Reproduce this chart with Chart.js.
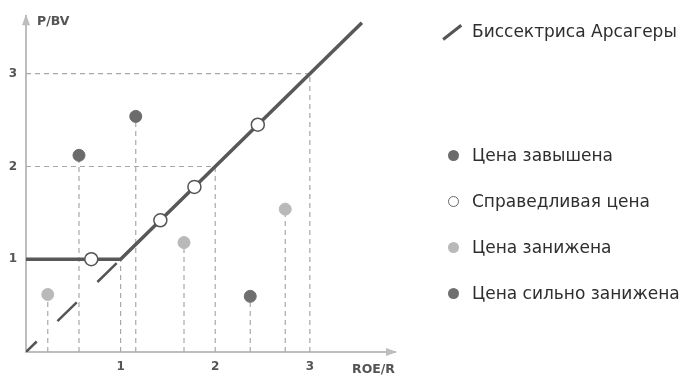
<!DOCTYPE html>
<html>
<head>
<meta charset="utf-8">
<script src="https://cdn.jsdelivr.net/npm/chart.js@4.4.0/dist/chart.umd.min.js"></script>
<style>
  body { margin: 0; background: #fff; }
  #wrap { position: relative; width: 690px; height: 376px; }
  #legend { position: absolute; left: 0; top: 0; width: 690px; height: 376px; pointer-events: none;
    font-family: "DejaVu Sans", sans-serif; font-size: 17px; color: #2e2e2e; }
  .item { position: absolute; left: 472px; white-space: nowrap; line-height: 20px; }
  .dot { position: absolute; width: 11px; height: 11px; border-radius: 50%; box-sizing: border-box; }
  .line { position: absolute; height: 2.5px; background: #555; transform-origin: 0 50%; }
</style>
</head>
<body>
<div id="wrap">
  <canvas id="myChart" width="690" height="376"></canvas>
  <div id="legend"></div>
</div>
<script>
// tick labels
const xTicks = [1, 2, 3];
const yTicks = [1, 2, 3];

// Arsagera bisector (flat at 1, then y = x) and the dashed y = x below it
const bisectorX = [0, 1, 3.55];
const bisectorY = [1, 1, 3.55];
const diagX = [0, 1];
const diagY = [0, 1];

// points
const overX = [0.56, 1.16];
const overY = [2.12, 2.54];
const fairX = [0.69, 1.42, 1.78, 2.45];
const fairY = [1, 1.42, 1.78, 2.45];
const underX = [0.23, 1.67, 2.74];
const underY = [0.62, 1.18, 1.54];
const strongX = [2.37];
const strongY = [0.6];

const legendLabels = [
  "Биссектриса Арсагеры",
  "Цена завышена",
  "Справедливая цена",
  "Цена занижена",
  "Цена сильно занижена",
];
const axisTitleX = "ROE/R";
const axisTitleY = "P/BV";

function toPoints(xs, ys) {
  return xs.map((x, i) => ({ x: x, y: ys[i] }));
}

// dashed helper lines: drops from points to the x axis, plus the 1/2/3 guides
function buildGuides() {
  const segs = [];
  const drop = (x, y) => {
    segs.push({ x: x, y: 0 }, { x: x, y: y }, { x: x, y: null });
  };
  overX.forEach((x, i) => drop(x, overY[i]));
  underX.forEach((x, i) => drop(x, underY[i]));
  strongX.forEach((x, i) => drop(x, strongY[i]));
  xTicks.forEach((t) => drop(t, t));
  yTicks.forEach((t) => {
    if (t > 1) segs.push({ x: 0, y: t }, { x: t, y: t }, { x: t, y: null });
  });
  return segs;
}

const axisColor = "#bdbdbd";
const labelColor = "#555";

// arrows at the axis ends and the axis titles
const axesDecor = {
  id: "axesDecor",
  afterDraw(chart) {
    const ctx = chart.ctx;
    const a = chart.chartArea;
    ctx.save();
    ctx.fillStyle = axisColor;
    ctx.beginPath();
    ctx.moveTo(a.right + 2, a.bottom);
    ctx.lineTo(a.right - 9, a.bottom - 4);
    ctx.lineTo(a.right - 9, a.bottom + 4);
    ctx.closePath();
    ctx.fill();
    ctx.beginPath();
    ctx.moveTo(a.left, a.top - 2);
    ctx.lineTo(a.left - 4, a.top + 9);
    ctx.lineTo(a.left + 4, a.top + 9);
    ctx.closePath();
    ctx.fill();

    ctx.fillStyle = labelColor;
    ctx.font = "bold 12.5px 'DejaVu Sans'";
    ctx.textBaseline = "middle";
    ctx.textAlign = "left";
    ctx.fillText(axisTitleY, a.left + 11, a.top + 6);
    ctx.fillText(axisTitleX, a.right - 43, a.bottom + 18);
    ctx.restore();
  },
};

const ctx = document.getElementById("myChart");
new Chart(ctx, {
  type: "scatter",
  data: {
    datasets: [
      {
        label: "guides",
        data: buildGuides(),
        showLine: true,
        spanGaps: false,
        borderColor: "#a8a8a8",
        borderWidth: 1.2,
        borderDash: [5, 4],
        pointRadius: 0,
        order: 5,
      },
      {
        label: "diag",
        data: toPoints(diagX, diagY),
        showLine: true,
        borderColor: "#555",
        borderWidth: 2.5,
        borderDash: [27, 29],
        borderDashOffset: 12,
        pointRadius: 0,
        order: 4,
      },
      {
        label: legendLabels[0],
        data: toPoints(bisectorX, bisectorY),
        showLine: true,
        borderColor: "#585858",
        borderWidth: 3.5,
        pointRadius: 0,
        order: 3,
      },
      {
        label: legendLabels[1],
        data: toPoints(overX, overY),
        pointRadius: 6,
        pointBackgroundColor: "#6b6b6b",
        pointBorderColor: "#6b6b6b",
        order: 1,
      },
      {
        label: legendLabels[2],
        data: toPoints(fairX, fairY),
        pointRadius: 6.5,
        pointBackgroundColor: "#fff",
        pointBorderColor: "#555",
        pointBorderWidth: 1.5,
        order: 1,
      },
      {
        label: legendLabels[3],
        data: toPoints(underX, underY),
        pointRadius: 6,
        pointBackgroundColor: "#b9b9b9",
        pointBorderColor: "#b9b9b9",
        order: 1,
      },
      {
        label: legendLabels[4],
        data: toPoints(strongX, strongY),
        pointRadius: 6,
        pointBackgroundColor: "#6f6f6f",
        pointBorderColor: "#6f6f6f",
        order: 1,
      },
    ],
  },
  options: {
    responsive: false,
    animation: false,
    layout: { padding: { left: 0, right: 295, top: 13, bottom: 0 } },
    plugins: { legend: { display: false }, tooltip: { enabled: false } },
    scales: {
      x: {
        type: "linear",
        min: 0,
        max: 3.9,
        afterBuildTicks: (scale) => {
          scale.ticks = xTicks.map((v) => ({ value: v }));
        },
        afterFit: (scale) => {
          scale.height = 24;
        },
        grid: { display: false, drawTicks: false },
        border: { display: true, color: axisColor, width: 2 },
        ticks: { color: labelColor, padding: 8, font: { family: "DejaVu Sans", size: 12, weight: "bold" } },
      },
      y: {
        type: "linear",
        min: 0,
        max: 3.62,
        afterBuildTicks: (scale) => {
          scale.ticks = yTicks.map((v) => ({ value: v }));
        },
        afterFit: (scale) => {
          scale.width = 26;
        },
        grid: { display: false, drawTicks: false },
        border: { display: true, color: axisColor, width: 2 },
        ticks: { color: labelColor, padding: 9, font: { family: "DejaVu Sans", size: 12, weight: "bold" } },
      },
    },
  },
  plugins: [axesDecor],
});

// legend on the right
const legend = document.getElementById("legend");
const itemTops = [21, 145, 191, 237, 283];
const dotStyles = [
  null,
  "background:#6b6b6b;",
  "background:#fff;border:1.5px solid #666;",
  "background:#b9b9b9;",
  "background:#6f6f6f;",
];
legendLabels.forEach((label, i) => {
  const item = document.createElement("div");
  item.className = "item";
  item.style.top = itemTops[i] + "px";
  item.textContent = label;
  legend.appendChild(item);
  if (i === 0) {
    const ln = document.createElement("div");
    ln.className = "line";
    ln.style.left = "443px";
    ln.style.top = "38px";
    ln.style.width = "23px";
    ln.style.transform = "rotate(-38deg)";
    legend.appendChild(ln);
  } else {
    const dot = document.createElement("div");
    dot.className = "dot";
    dot.style.cssText += dotStyles[i];
    dot.style.left = "448px";
    dot.style.top = itemTops[i] + 4.5 + "px";
    legend.appendChild(dot);
  }
});
</script>
</body>
</html>
